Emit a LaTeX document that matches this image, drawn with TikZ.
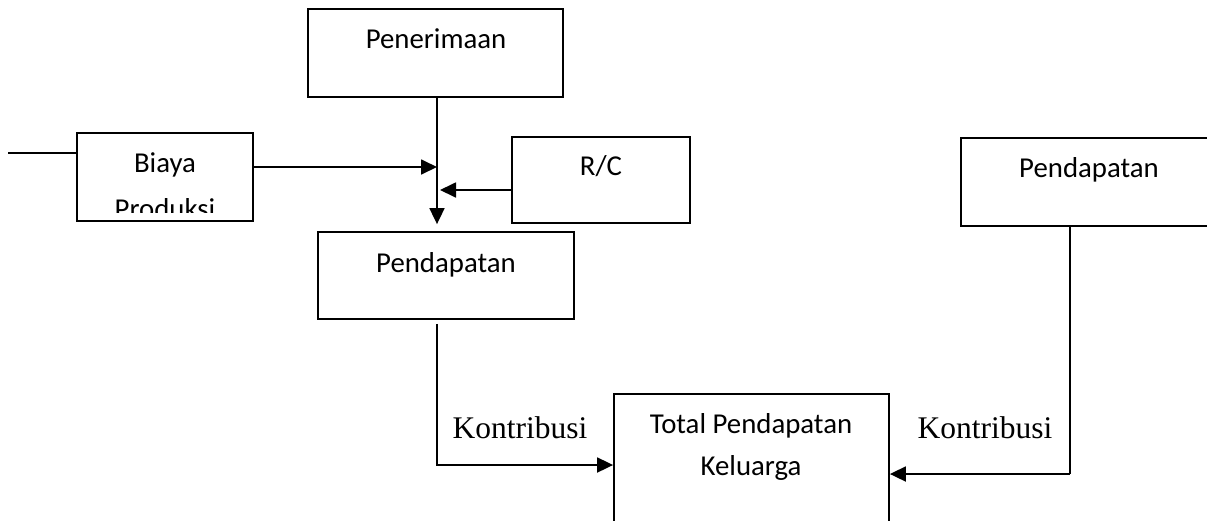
\documentclass[tikz,border=0pt]{standalone}
\usepackage{fontspec}
\setmainfont{Carlito}
\newfontfamily\timesfont{Liberation Serif}
\usetikzlibrary{arrows.meta}

\begin{document}
\begin{tikzpicture}[x=1pt,y=-1pt,line width=1.8pt,
  box/.style={draw,rectangle,inner sep=0pt},
  flow/.style={-{Triangle[length=16pt,width=15pt]}},
  txt/.style={anchor=base,inner sep=0pt,font=\fontsize{28.8}{34}\selectfont},
  kon/.style={anchor=base,inner sep=0pt,font=\timesfont\fontsize{31.5}{36}\selectfont}]
\useasboundingbox (0,0) rectangle (1207,520);
% boxes
\node[box,minimum width=255pt,minimum height=88pt] (pen) at (435.5,53) {};
\node[box,minimum width=176pt,minimum height=88pt] (biaya) at (165,177) {};
\node[box,minimum width=178pt,minimum height=86pt] (rc) at (601,180) {};
\node[box,minimum width=256pt,minimum height=87pt] (pend) at (446,275.5) {};
\node[box,minimum width=275pt,minimum height=142pt] (total) at (751.5,465) {};
\node[box,minimum width=256pt,minimum height=88pt] (pendb) at (1089,182) {};
% texts
\node[txt] (tpen) at (436,48) {Penerimaan};
\node[txt] (tbiaya) at (165,172) {Biaya};
\begin{scope}
  \clip (biaya.north west) rectangle ([yshift=9pt]biaya.south east);
  \node[txt] (tprod) at (165,218) {Produksi};
\end{scope}
\node[txt] (trc) at (601,175) {R/C};
\node[txt] (tpend) at (446,272) {Pendapatan};
\node[txt] (ttot) at (751,433) {Total Pendapatan};
\node[txt] (tkel) at (751,475) {Keluarga};
\node[txt] (tpendb) at (1089,177) {Pendapatan};
\node[kon] (kon1) at (520,438) {Kontribusi};
\node[kon] (kon2) at (985,438) {Kontribusi};
% connectors
\coordinate (inlet) at (8,153);
\coordinate (spine) at (437,160);
\coordinate (rturn) at (1070,474);
\draw (inlet) -- (inlet -| biaya.west);
\draw[flow,shorten >=7pt] (pen.south -| spine) -- (pend.north -| spine);
\draw[flow] (biaya.east |- 0,167) -- (spine |- 0,167);
\draw[flow] (rc.west |- 0,190) -- ([xshift=3pt]spine |- 0,190);
\draw[flow] ([yshift=-4pt]pend.south -| spine) |- (total.west);
\draw (pendb.south -| rturn) -- (rturn);
\draw[flow] (rturn) -- (rturn -| total.east);
\end{tikzpicture}
\end{document}
